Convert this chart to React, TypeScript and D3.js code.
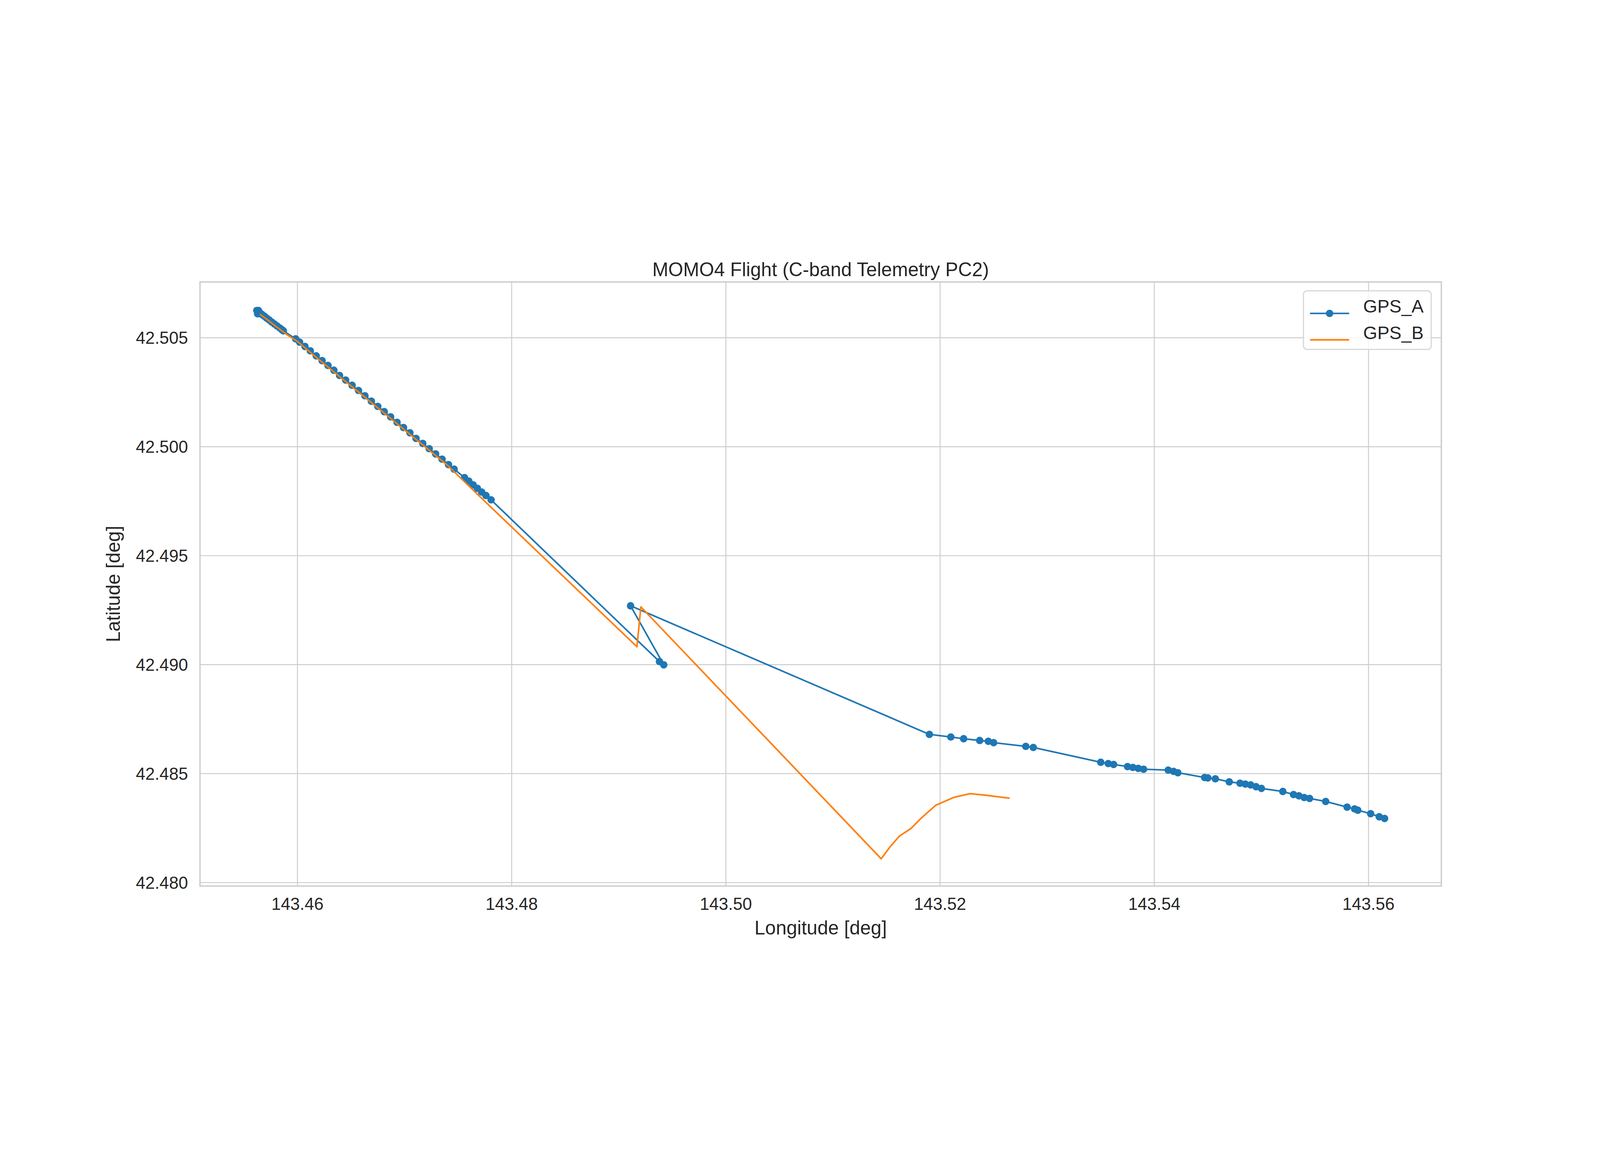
import * as d3 from "d3";

// GPS_A longitude / latitude samples (deg)
const gpsALon = [
  143.45620, 143.45628, 143.45636, 143.45650, 143.45668, 143.45690, 143.45712, 143.45735,
  143.45760, 143.45785, 143.45810, 143.45835, 143.45855, 143.45868,
  143.45983, 143.46020, 143.46070, 143.46120, 143.46175, 143.46230, 143.46285, 143.46340,
  143.46393, 143.46450, 143.46510, 143.46570, 143.46630, 143.46690, 143.46750, 143.46810,
  143.46870, 143.46930, 143.46990, 143.47050, 143.47107, 143.47170, 143.47230, 143.47290,
  143.47350, 143.47410, 143.47463,
  143.47560, 143.47600, 143.47640, 143.47680, 143.47720, 143.47760, 143.47808,
  143.49380, 143.49420, 143.49110,
  143.51900, 143.52100, 143.52220, 143.52370, 143.52450, 143.52500, 143.52800, 143.52870,
  143.53500, 143.53570, 143.53620, 143.53750, 143.53800, 143.53850, 143.53900,
  143.54130, 143.54180, 143.54220, 143.54470, 143.54500, 143.54570, 143.54700,
  143.54800, 143.54850, 143.54900, 143.54950, 143.55000, 143.55200, 143.55300,
  143.55350, 143.55400, 143.55450, 143.55600, 143.55800, 143.55870, 143.55900,
  143.56020, 143.56100, 143.56150,
];
const gpsALat = [
  42.50625, 42.50610, 42.50625, 42.50614, 42.50607, 42.50599, 42.50590, 42.50582,
  42.50572, 42.50563, 42.50554, 42.50545, 42.50537, 42.50532,
  42.50495, 42.50480, 42.50460, 42.50440, 42.50417, 42.50395, 42.50373, 42.50351,
  42.50327, 42.50306, 42.50282, 42.50258, 42.50234, 42.50209, 42.50185, 42.50161,
  42.50137, 42.50112, 42.50088, 42.50064, 42.50038, 42.50015, 42.49991, 42.49967,
  42.49943, 42.49918, 42.49897,
  42.49858, 42.49842, 42.49825, 42.49809, 42.49792, 42.49776, 42.49756,
  42.49014, 42.48999, 42.49270,
  42.48680, 42.48668, 42.48660, 42.48652, 42.48648, 42.48642, 42.48625, 42.48620,
  42.48552, 42.48546, 42.48542, 42.48532, 42.48528, 42.48524, 42.48520,
  42.48516, 42.48510, 42.48504, 42.48482, 42.48480, 42.48476, 42.48462,
  42.48456, 42.48452, 42.48448, 42.48440, 42.48432, 42.48418, 42.48404,
  42.48398, 42.48390, 42.48386, 42.48372, 42.48346, 42.48338, 42.48332,
  42.48316, 42.48302, 42.48294,
];

// GPS_B longitude / latitude samples (deg)
const gpsBLon = [
  143.45650, 143.45700, 143.45800, 143.45900, 143.46000, 143.46200, 143.46400, 143.46600,
  143.46800, 143.47000, 143.47200, 143.47400, 143.47463, 143.47820,
  143.49170, 143.49206, 143.51450, 143.51530, 143.51620, 143.51730, 143.51820, 143.51960,
  143.52130, 143.52280, 143.52420, 143.52650,
];
const gpsBLat = [
  42.50608, 42.50590, 42.50552, 42.50515, 42.50483, 42.50400, 42.50319, 42.50239,
  42.50158, 42.50077, 42.49996, 42.49915, 42.49885, 42.49716,
  42.49082, 42.49265, 42.48109, 42.48162, 42.48213, 42.48249, 42.48294, 42.48355,
  42.48391, 42.48408, 42.48401, 42.48387,
];

const xTicks = [143.46, 143.48, 143.50, 143.52, 143.54, 143.56];
const yTicks = [42.480, 42.485, 42.490, 42.495, 42.500, 42.505];

const W = 6000, H = 3000;
const left = 750, right = 5405, top = 360, bottom = 2625;
const BLUE = "#1f77b4", ORANGE = "#ff7f0e";
const FONT = "Liberation Sans, Arial, sans-serif";

export default function App() {
  const x = d3.scaleLinear().domain([143.4509, 143.5668]).range([left, right]);
  const y = d3.scaleLinear().domain([42.47984, 42.50756]).range([bottom, top]);
  const a = gpsALon.map((v, i) => [v, gpsALat[i]] as [number, number]);
  const b = gpsBLon.map((v, i) => [v, gpsBLat[i]] as [number, number]);
  const line = d3.line<[number, number]>().x((d) => x(d[0])).y((d) => y(d[1]));

  return (
    <svg
      viewBox={`0 0 ${W} ${H}`}
      preserveAspectRatio="xMidYMid meet"
      style={{ position: "fixed", left: 0, top: 0, width: "100vw", height: "100vh", display: "block", fontFamily: FONT, background: "#fff" }}
    >
      <rect width={W} height={H} fill="#fff" />
      {/* grid */}
      {xTicks.map((t) => (
        <line key={"gx" + t} x1={x(t)} x2={x(t)} y1={top} y2={bottom} stroke="#cccccc" strokeWidth={3.5} />
      ))}
      {yTicks.map((t) => (
        <line key={"gy" + t} x1={left} x2={right} y1={y(t)} y2={y(t)} stroke="#cccccc" strokeWidth={3.5} />
      ))}
      {/* data */}
      <path d={line(a) ?? ""} fill="none" stroke={BLUE} strokeWidth={6} strokeLinejoin="round" />
      {a.map((d, i) => (
        <circle key={"p" + i} cx={x(d[0])} cy={y(d[1])} r={14} fill={BLUE} />
      ))}
      <path d={line(b) ?? ""} fill="none" stroke={ORANGE} strokeWidth={6} strokeLinejoin="round" />
      {/* spines */}
      <rect x={left} y={top} width={right - left} height={bottom - top} fill="none" stroke="#cccccc" strokeWidth={5} />
      {/* tick labels */}
      {xTicks.map((t) => (
        <text key={"tx" + t} x={x(t)} y={2714} textAnchor="middle" fontSize={64} fill="#262626">
          {t.toFixed(2)}
        </text>
      ))}
      {yTicks.map((t) => (
        <text key={"ty" + t} x={705} y={y(t) + 23} textAnchor="end" fontSize={64} fill="#262626">
          {t.toFixed(3)}
        </text>
      ))}
      <text x={(left + right) / 2} y={2806} textAnchor="middle" fontSize={72} fill="#262626">Longitude [deg]</text>
      <text transform={`translate(450,${(top + bottom) / 2}) rotate(-90)`} textAnchor="middle" fontSize={72} fill="#262626">
        Latitude [deg]
      </text>
      <text x={(left + right) / 2} y={338} textAnchor="middle" fontSize={72} fill="#262626">
        MOMO4 Flight (C-band Telemetry PC2)
      </text>
      {/* legend */}
      <rect x={4888} y={393} width={479} height={220} rx={14} fill="#fff" fillOpacity={0.8} stroke="#d5d5d5" strokeWidth={4} />
      <line x1={4915} x2={5057} y1={478} y2={478} stroke={BLUE} strokeWidth={6} strokeLinecap="round" />
      <circle cx={4986} cy={478} r={14} fill={BLUE} />
      <line x1={4915} x2={5057} y1={577} y2={577} stroke={ORANGE} strokeWidth={6} strokeLinecap="round" />
      <text x={5112} y={475} fontSize={68} fill="#262626">GPS_A</text>
      <text x={5112} y={574} fontSize={68} fill="#262626">GPS_B</text>
    </svg>
  );
}
